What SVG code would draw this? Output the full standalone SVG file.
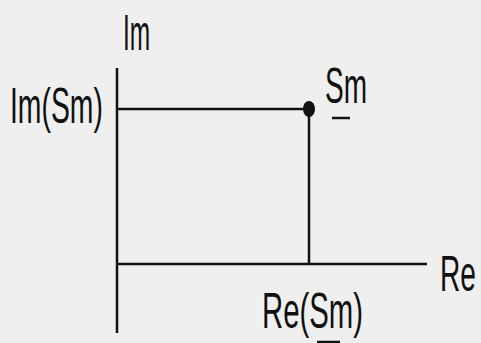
<svg xmlns="http://www.w3.org/2000/svg" width="481" height="343" viewBox="0 0 481 343">
<style>
.ax{stroke:#111;stroke-width:2.5;fill:none}
.t{font-family:"Liberation Sans",Arial,sans-serif;font-size:50px;fill:#111}
.u{stroke:#111;stroke-width:2.5}
</style>
<rect width="481" height="343" fill="#efefef"/>
<g id="connectors">
<line class="ax" x1="117" y1="68" x2="117" y2="333"/>
<line class="ax" x1="117" y1="264" x2="427" y2="264"/>
<line class="ax" x1="117" y1="109" x2="309" y2="109"/>
<line class="ax" x1="309" y1="109" x2="309" y2="264"/>
</g>
<g id="point">
<ellipse cx="309" cy="109" rx="6" ry="8" fill="#111"/>
</g>
<g id="labels">
<text class="t" transform="translate(123,50) scale(0.49,1)">Im</text>
<text class="t" transform="translate(10,123) scale(0.567,1)">Im(Sm)</text>
<text class="t" transform="translate(325,103) scale(0.56,1)">Sm</text>
<line class="u" x1="332" y1="118" x2="350" y2="118"/>
<text class="t" transform="translate(440,291) scale(0.563,1)">Re</text>
<text class="t" transform="translate(262,328) scale(0.587,1)">Re(Sm)</text>
<line class="u" x1="317" y1="342" x2="340" y2="342"/>
</g>
</svg>
